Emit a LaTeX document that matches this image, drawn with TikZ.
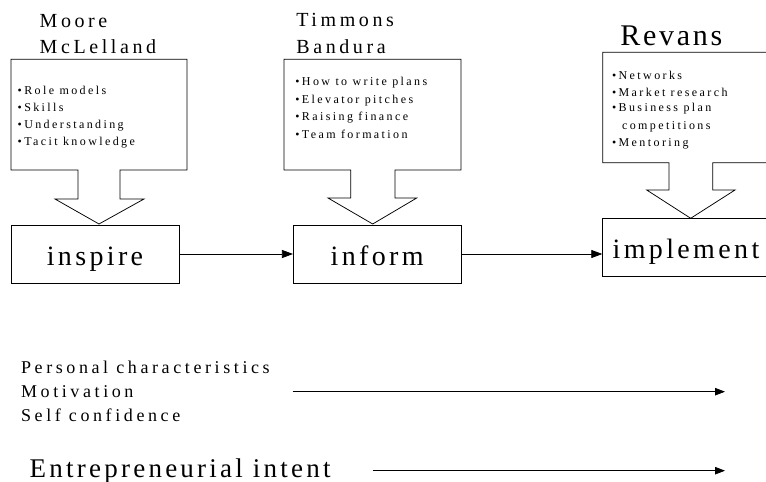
\documentclass[tikz,border=0pt]{standalone}
\usepackage{fontspec}
\setmainfont{Liberation Serif}
\usetikzlibrary{arrows.meta}
\newcommand\lsfont[2]{\fontsize{#1}{#1}\selectfont\addfontfeature{LetterSpace=#2}}
\begin{document}
\begin{tikzpicture}[x=1pt,y=-1pt,line width=0.75pt,
  txt/.style={anchor=base west,inner sep=0pt},
  author/.style={txt,font=\lsfont{20}{18}},
  bigauthor/.style={txt,font=\lsfont{30}{9}},
  bul/.style={txt,font=\lsfont{12}{20}},
  side/.style={txt,font=\lsfont{18}{20}},
  stagebox/.style={draw,inner sep=0pt,minimum height=58pt,text height=22pt,text depth=0pt,font=\lsfont{28}{12}},
  callout/.style={draw,line width=0.75pt},
  flow/.style={-{Triangle[length=11pt,width=8pt]}},
  flowthin/.style={-{Triangle[length=10pt,width=7.5pt]}}
]
\useasboundingbox (0,0) rectangle (766,482);
\clip (0,0) rectangle (766,482);

% callouts
\draw[callout] (11,59.3) -- (187,59.3) -- (187,170) -- (120,170) -- (120,199) -- (144,199) -- (99,224) -- (55,199) -- (78,199) -- (78,170) -- (11,170) -- cycle;
\draw[callout] (284,59.3) -- (461,59.3) -- (461,170) -- (395,170) -- (395,198) -- (416.7,198) -- (372.7,224) -- (328,198) -- (350.7,198) -- (350.7,170) -- (284,170) -- cycle;
\draw[callout] (602.7,52.3) -- (770,52.3) -- (770,162.7) -- (712.7,162.7) -- (712.7,190) -- (735,190) -- (690.7,218.3) -- (646.7,190) -- (669,190) -- (669,162.7) -- (602.7,162.7) -- cycle;

% author names
\node[author] (moore) at (39.3,27.3) {Moore};
\node[author] (mcl) at (39.3,53.3) {McLelland};
\node[author] (timmons) at (296,26.7) {Timmons};
\node[author] (bandura) at (296,53.3) {Bandura};
\node[bigauthor] (revans) at (620,45) {Revans};

% bullets 1
\node[bul] (b11) at (17.3,94.7) {•Role models};
\node[bul] (b12) at (17.3,111.3) {•Skills};
\node[bul] (b13) at (17.3,128.3) {•Understanding};
\node[bul] (b14) at (17.3,145.7) {•Tacit knowledge};
% bullets 2
\node[bul] (b21) at (295,85.7) {•How to write plans};
\node[bul] (b22) at (295,103.3) {•Elevator pitches};
\node[bul] (b23) at (295,120.7) {•Raising finance};
\node[bul] (b24) at (295,138) {•Team formation};
% bullets 3
\node[bul] (b31) at (611.7,79.3) {•Networks};
\node[bul] (b32) at (611.7,96) {•Market research};
\node[bul] (b33) at (611.7,111.7) {•Business plan};
\node[bul] (b34) at (621.7,129.3) {competitions};
\node[bul] (b35) at (611.7,146.7) {•Mentoring};

% stages
\node[stagebox,minimum width=168pt] (inspire) at (95,254) {inspire};
\node[stagebox,minimum width=167.7pt] (inform) at (377.2,254) {inform};
\node[stagebox,minimum width=166.6pt] (implement) at (686,247.5) {implement};

\draw[flow] (inspire.east) -- (inform.west);
\draw[flow] (inform.east) -- (inform.east -| implement.west);

% bottom
\node[side] (pc) at (20.7,373) {Personal characteristics};
\node[side] (mot) at (20.7,397) {Motivation};
\node[side] (sc) at (20.7,421.7) {Self confidence};
\node[txt,font=\lsfont{27}{12}] (ei) at (29.3,477.3) {Entrepreneurial intent};

\coordinate (a1s) at (292.7,391.7);
\coordinate (a1e) at (725,391.7);
\coordinate (a2s) at (372.7,470.7);
\coordinate (a2e) at (725,470.7);
\draw[flowthin] (a1s) -- (a1e);
\draw[flowthin] (a2s) -- (a2e);
\end{tikzpicture}
\end{document}
